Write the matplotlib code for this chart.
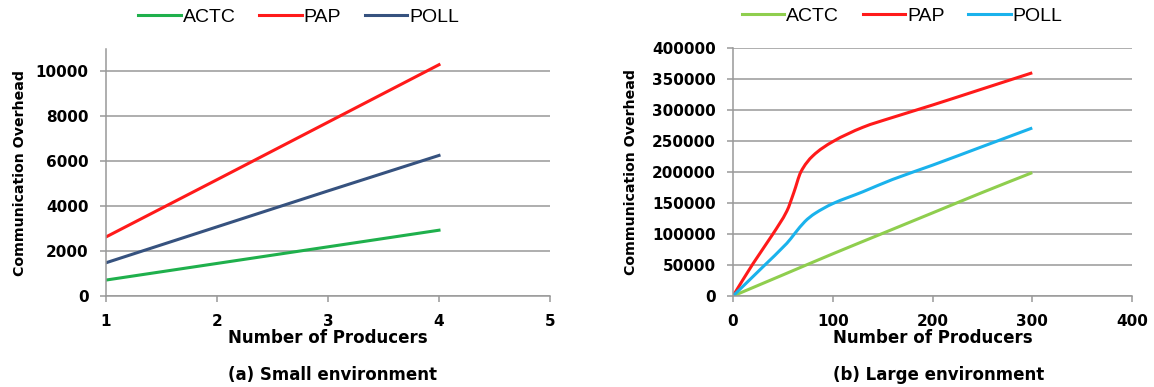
import matplotlib

matplotlib.use("Agg")
import matplotlib.pyplot as plt
import numpy as np
from matplotlib.path import Path
from matplotlib.patches import PathPatch

plt.rcParams["font.family"] = ["Liberation Sans", "DejaVu Sans"]

# (a) small environment
SMALL_X = [1, 2, 3, 4]
SMALL_ACTC = [710, 1450, 2190, 2930]
SMALL_PAP = [2630, 5180, 7740, 10300]
SMALL_POLL = [1480, 3080, 4680, 6260]

# (b) large environment
LARGE_ACTC_X = [0, 50, 100, 150, 200, 250, 300]
LARGE_ACTC = [0, 34000, 68000, 101000, 134000, 167000, 199000]
LARGE_PAP_X = [0, 20, 40, 54, 61, 68, 80, 100, 130, 160, 200, 250, 300]
LARGE_PAP = [0, 52000, 100000, 137000, 167000, 200000, 226000, 249000,
             272000, 288000, 308000, 334000, 360000]
LARGE_POLL_X = [0, 30, 54, 62, 72, 82, 100, 130, 160, 200, 250, 300]
LARGE_POLL = [0, 47000, 85000, 101000, 120000, 133000, 149000,
              168000, 188000, 211000, 241000, 271000]

SERIES = ["ACTC", "PAP", "POLL"]
SMALL_COLORS = ["#1fb04c", "#ff1a1a", "#36527f"]
LARGE_COLORS = ["#8fce4e", "#ff1a1a", "#1ab2ec"]

GRID = "#999999"
BOLD = dict(family="DejaVu Sans", fontweight="bold")


def smooth_path(x, y):
    """Smoothed line: cubic Bezier segments through each data point."""
    x = np.asarray(x, float)
    y = np.asarray(y, float)
    n = len(x)
    slope = np.empty(n)
    slope[0] = (y[1] - y[0]) / (x[1] - x[0])
    slope[-1] = (y[-1] - y[-2]) / (x[-1] - x[-2])
    slope[1:-1] = (y[2:] - y[:-2]) / (x[2:] - x[:-2])
    verts = [(x[0], y[0])]
    codes = [Path.MOVETO]
    for i in range(n - 1):
        h = (x[i + 1] - x[i]) / 3.0
        verts += [(x[i] + h, y[i] + h * slope[i]),
                  (x[i + 1] - h, y[i + 1] - h * slope[i + 1]),
                  (x[i + 1], y[i + 1])]
        codes += [Path.CURVE4] * 3
    return Path(verts, codes)


def style_axes(ax):
    for side in ("top", "right"):
        ax.spines[side].set_visible(False)
    for side in ("left", "bottom"):
        ax.spines[side].set_color(GRID)
        ax.spines[side].set_linewidth(1.1)
    ax.yaxis.grid(True, color=GRID, linewidth=1.1)
    ax.set_axisbelow(True)
    ax.tick_params(axis="x", direction="out", length=4, color=GRID, width=1.1,
                   labelsize=11, pad=9)
    ax.tick_params(axis="y", direction="out", length=4.5, color=GRID, width=1.1,
                   labelsize=11, pad=8)
    for lbl in ax.get_xticklabels() + ax.get_yticklabels():
        lbl.set_family("DejaVu Sans")
        lbl.set_fontweight("bold")
    ax.set_xlabel("Number of Producers", fontsize=12, labelpad=0, **BOLD)
    ax.set_ylabel("Communication Overhead", fontsize=10.2, **BOLD)


def add_legend(ax, x_center):
    ax.legend(loc="center", bbox_to_anchor=(x_center, 1.13), ncol=3, frameon=False,
              fontsize=14, handlelength=2.2, handletextpad=0.1, columnspacing=1.2)


fig = plt.figure(figsize=(11.54, 3.87), dpi=100)
W, H = 1154, 387

# left panel
ax1 = fig.add_axes([106 / W, 1 - 296 / H, (550 - 106) / W, (296 - 49) / H])
for name, vals, color in zip(SERIES, [SMALL_ACTC, SMALL_PAP, SMALL_POLL], SMALL_COLORS):
    ax1.plot(SMALL_X, vals, color=color, linewidth=2.2, label=name)
ax1.set_xlim(1, 5)
ax1.set_ylim(0, 11000)
ax1.set_xticks([1, 2, 3, 4, 5])
ax1.set_yticks(range(0, 10001, 2000))
style_axes(ax1)
ax1.yaxis.set_label_coords(-0.178, 0.5)
add_legend(ax1, 0.434)
fig.text(332 / W, 1 - 375 / H, "(a) Small environment", ha="center", va="center",
         fontsize=12, **BOLD)

# right panel
ax2 = fig.add_axes([733 / W, 1 - 296 / H, (1132 - 733) / W, (296 - 48) / H])
large = [(LARGE_ACTC_X, LARGE_ACTC), (LARGE_PAP_X, LARGE_PAP), (LARGE_POLL_X, LARGE_POLL)]
for name, (xs, vals), color in zip(SERIES, large, LARGE_COLORS):
    ax2.add_patch(PathPatch(smooth_path(xs, vals), facecolor="none", edgecolor=color,
                            linewidth=2.2))
    ax2.plot([], [], color=color, linewidth=2.2, label=name)
ax2.set_xlim(0, 400)
ax2.set_ylim(0, 400000)
ax2.set_xticks([0, 100, 200, 300, 400])
ax2.set_yticks(range(0, 400001, 50000))
style_axes(ax2)
ax2.yaxis.set_label_coords(-0.238, 0.5)
add_legend(ax2, 0.424)
fig.text(939 / W, 1 - 375 / H, "(b) Large environment", ha="center", va="center",
         fontsize=12, **BOLD)

fig.savefig("out.png", dpi=100)
